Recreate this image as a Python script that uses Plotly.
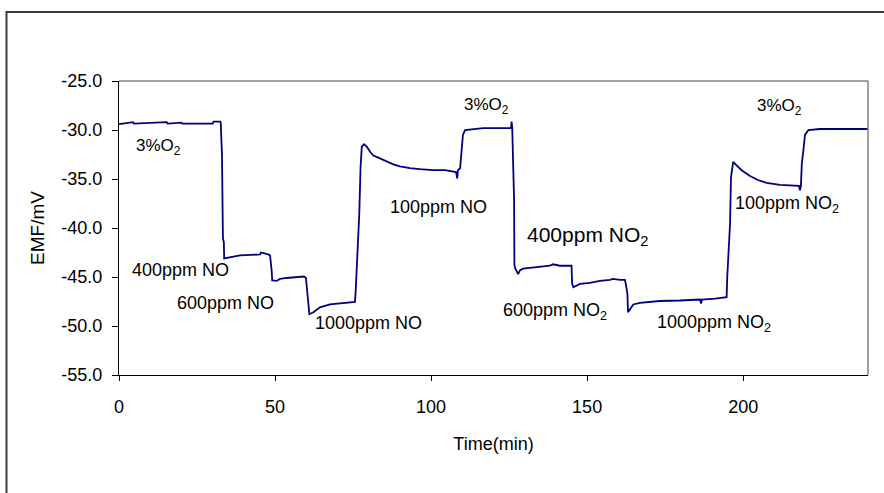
import plotly.graph_objects as go

# ---- data ----
time_min = [0, 2, 4.5, 4.8, 15.3, 15.6, 20, 20.3, 30, 30.3, 32.5, 32.6,
            32.8, 33.0, 33.3, 33.6, 33.7,
            35.6, 36.1, 38.8, 45.2, 45.5, 47.8, 48.4,
            48.9, 49.1, 50.5, 51.6, 53.7, 58, 59.3, 59.9,
            60.2, 60.5, 61.0,
            62.3, 64.4, 67.6, 70.8, 74, 75.6,
            75.8, 76.1, 77.0, 77.4, 77.8, 78.5,
            79.4, 80.4, 81.5, 83.6, 85.8, 87.9, 90, 93.2, 96.4, 100.6, 104.5, 107, 108, 108.4, 108.6,
            109.3, 109.8, 110.2, 110.9, 112.5, 114.6, 116.7, 125.6,
            125.8, 126.0, 126.3, 126.6, 126.7, 127.0, 127.9, 128.5, 129.5, 132.7, 138.1, 139, 141.3, 145,
            145.2, 145.6, 146.6, 147.7, 150.9, 154.1, 157.3, 158.3, 160.5, 162.1, 162.4,
            162.9, 163.1, 163.7, 164.8, 166.9, 170.1, 173.3, 179.7, 186.2, 186.5, 186.8, 191, 194.7,
            194.9, 195.4, 195.8, 196.1, 196.8,
            197.9, 199.5, 202.2, 204.7, 207.5, 211.8, 217.9, 218.2, 218.5,
            218.8, 219.3, 219.8, 220.9, 222.5, 224.6, 240]
emf_mv = [-29.4, -29.3, -29.2, -29.35, -29.2, -29.35, -29.25, -29.35, -29.35, -29.15, -29.15, -29.3,
          -32.1, -32.6, -41.0, -41.5, -43.1,
          -43.0, -42.9, -42.8, -42.7, -42.5, -42.7, -42.8,
          -44.3, -45.35, -45.4, -45.2, -45.1, -45.0, -44.95, -45.1,
          -46.0, -47.4, -48.8,
          -48.6, -48.1, -47.8, -47.67, -47.6, -47.55,
          -46.7, -44.5, -38.5, -33.8, -31.7, -31.45,
          -31.7, -32.2, -32.6, -32.9, -33.25, -33.5, -33.7, -33.9, -34.0, -34.1, -34.1, -34.2, -34.3, -34.95, -34.1,
          -33.9, -32.2, -30.5, -30.0, -29.95, -29.85, -29.8, -29.8,
          -29.15, -29.8, -35.1, -37.2, -43.8, -44.15, -44.7, -44.3, -44.15, -44.05, -43.85, -43.7, -43.85, -43.85,
          -45.7, -46.05, -45.85, -45.7, -45.6, -45.4, -45.3, -45.2, -45.3, -45.3, -45.7,
          -46.7, -48.6, -48.35, -47.8, -47.65, -47.55, -47.45, -47.4, -47.3, -47.7, -47.3, -47.2, -47.05,
          -45.0, -41.3, -39.55, -34.8, -33.25,
          -33.6, -34.1, -34.7, -35.1, -35.4, -35.6, -35.7, -36.15, -35.7,
          -33.4, -32.05, -30.5, -30.0, -29.95, -29.9, -29.9]

ytick_vals = [-25, -30, -35, -40, -45, -50, -55]
ytick_labels = ["-25.0", "-30.0", "-35.0", "-40.0", "-45.0", "-50.0", "-55.0"]
xtick_vals = [0, 50, 100, 150, 200]

annot_labels = ["3%O<sub>2</sub>", "400ppm NO", "600ppm NO", "1000ppm NO", "100ppm NO",
                "3%O<sub>2</sub>", "400ppm NO<sub>2</sub>", "600ppm NO<sub>2</sub>",
                "1000ppm NO<sub>2</sub>", "100ppm NO<sub>2</sub>", "3%O<sub>2</sub>"]
annot_t = [12.8, 19.6, 34.0, 79.9, 102.4, 117.6, 150.1, 139.7, 190.6, 213.9, 211.7]
annot_v = [-31.75, -44.3, -47.7, -49.7, -37.85, -27.55, -40.8, -48.5, -49.7, -37.6, -27.65]
annot_sizes = [17, 18, 18, 18, 18, 17, 21, 18, 18, 18, 17]

FONT = "Liberation Sans, Arial, sans-serif"

fig = go.Figure()
fig.add_trace(go.Scatter(x=time_min, y=emf_mv, mode="lines",
                         line=dict(color="#000080", width=1.8), showlegend=False,
                         hoverinfo="skip"))

for lab, t, v, s in zip(annot_labels, annot_t, annot_v, annot_sizes):
    fig.add_annotation(x=t, y=v, text=lab, showarrow=False, xanchor="center", yanchor="middle",
                       font=dict(family=FONT, size=s, color="black"))

# gray frame top/right of plot area
fig.add_shape(type="line", xref="paper", yref="paper", x0=0, x1=1, y0=1, y1=1,
              line=dict(color="#808080", width=1.5))
fig.add_shape(type="line", xref="paper", yref="paper", x0=1, x1=1, y0=0, y1=1,
              line=dict(color="#808080", width=1.5))
# outer chart-area border
fig.add_shape(type="rect", xref="paper", yref="paper", x0=-0.1502, x1=1.2, y0=-0.6, y1=1.2347,
              line=dict(color="#3a3a3a", width=2), layer="below")

fig.update_layout(
    width=884, height=493,
    margin=dict(l=119, r=16, t=81, b=118, autoexpand=False),
    paper_bgcolor="white", plot_bgcolor="white",
    font=dict(family=FONT, size=18, color="black"),
    xaxis=dict(range=[0, 240], tickvals=xtick_vals, showgrid=False, zeroline=False,
               showline=True, linecolor="black", linewidth=1.2, automargin=False,
               ticks="outside", ticklen=5, tickcolor="black", tickwidth=1,
               ticklabelstandoff=10,
               title=dict(text="Time(min)", standoff=21, font=dict(size=18))),
    yaxis=dict(range=[-55, -25], tickvals=ytick_vals, ticktext=ytick_labels,
               showgrid=False, zeroline=False,
               showline=True, linecolor="black", linewidth=1.2, automargin=False,
               ticks="outside", ticklen=6, tickcolor="black", tickwidth=1,
               ticklabelstandoff=6,
               title=dict(text="EMF/mV", standoff=11, font=dict(size=19))),
)

fig.write_html("out.html", config={"displayModeBar": False},
               post_script="document.body.style.margin='0';document.body.style.overflow='hidden';")
